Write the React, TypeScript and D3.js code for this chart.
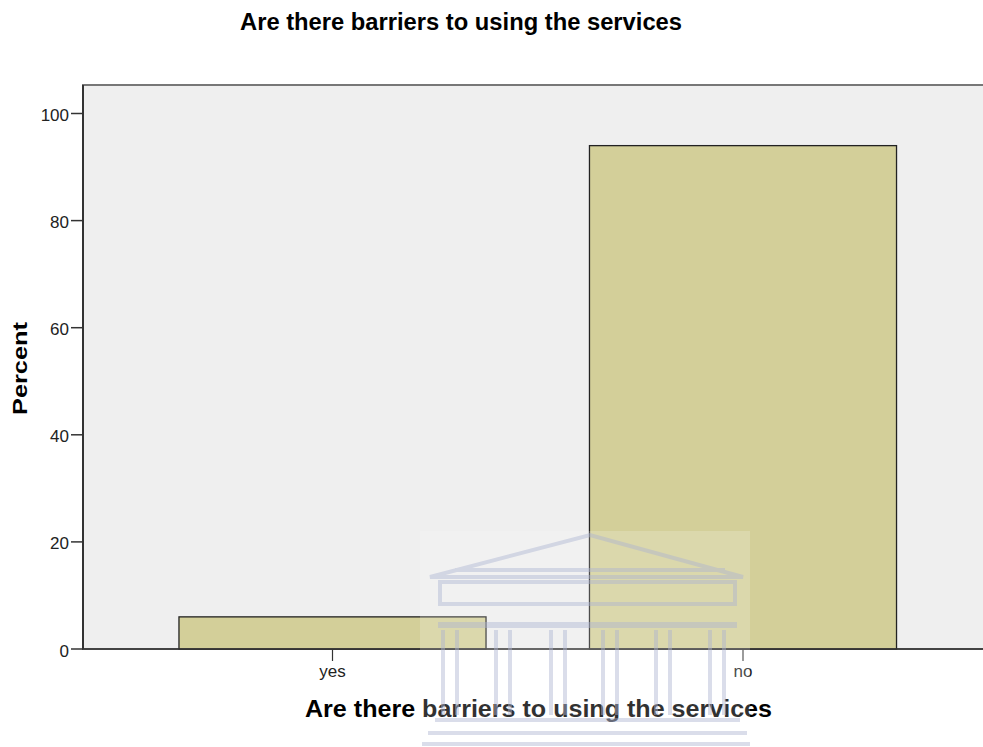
import React from "react";
import * as d3 from "d3";

const categories = ["yes", "no"];
const percents = [6.0, 94.0];
const yTicks = [0, 20, 40, 60, 80, 100];
const title = "Are there barriers to using the services";
const xTitle = "Are there barriers to using the services";
const yTitle = "Percent";

const W = 983;
const H = 747;
const plotLeft = 83;
const plotTop = 85;
const plotBottom = 649;
const plotRight = 983;

export default function App() {
  const y = d3.scaleLinear().domain([0, 100]).range([plotBottom, 113.5]);
  const x = d3
    .scaleBand<string>()
    .domain(categories)
    .range([127.25, 948.25])
    .paddingInner(0.252)
    .paddingOuter(0.126);
  const font = "'Liberation Sans', Arial, sans-serif";

  const colCenters = [450, 503, 558, 610, 663, 717];

  return (
    <svg
      width={W}
      height={H}
      style={{ position: "absolute", left: 0, top: 0, background: "#fff" }}
      fontFamily={font}
    >
      <rect x={0} y={0} width={W} height={H} fill="#fff" />
      <text
        x={240}
        y={30}
        fontSize={23}
        fontWeight="bold"
        fill="#000"
        textLength={442}
        lengthAdjust="spacingAndGlyphs"
      >
        {title}
      </text>
      <rect
        x={plotLeft}
        y={plotTop}
        width={plotRight - plotLeft + 2}
        height={plotBottom - plotTop}
        fill="#efefef"
        stroke="#777"
        strokeWidth={2}
      />
      {categories.map((c, i) => (
        <rect
          key={c}
          x={x(c)!}
          y={y(percents[i])}
          width={x.bandwidth()}
          height={plotBottom - y(percents[i])}
          fill="#d3cf99"
          stroke="#222"
          strokeWidth={1.3}
        />
      ))}
      <line x1={plotLeft} x2={plotLeft} y1={plotTop} y2={plotBottom} stroke="#333" strokeWidth={2} />
      <line x1={plotLeft - 1} x2={plotRight} y1={plotBottom} y2={plotBottom} stroke="#333" strokeWidth={1.5} />
      {yTicks.map((t) => (
        <g key={t}>
          <line x1={plotLeft - 12} x2={plotLeft} y1={y(t)} y2={y(t)} stroke="#333" strokeWidth={1.5} />
          <text x={69} y={y(t) + 7.5} textAnchor="end" fontSize={17} fill="#222">
            {t}
          </text>
        </g>
      ))}
      {categories.map((c) => {
        const cx = x(c)! + x.bandwidth() / 2;
        return (
          <g key={c}>
            <line x1={cx} x2={cx} y1={plotBottom} y2={plotBottom + 12} stroke="#333" strokeWidth={1.2} />
            <text x={cx} y={677} textAnchor="middle" fontSize={17} fill="#222">
              {c}
            </text>
          </g>
        );
      })}
      <text
        x={305}
        y={717}
        fontSize={23}
        fontWeight="bold"
        fill="#000"
        textLength={467}
        lengthAdjust="spacingAndGlyphs"
      >
        {xTitle}
      </text>
      <text
        transform={`translate(27, 415) rotate(-90)`}
        fontSize={21}
        fontWeight="bold"
        fill="#000"
        textLength={93}
        lengthAdjust="spacingAndGlyphs"
      >
        {yTitle}
      </text>
      {/* watermark */}
      <g opacity={0.55}>
        <rect x={420} y={531} width={330} height={216} fill="#ffffff" opacity={0.35} />
        <g fill="none" stroke="#bcc2da" strokeWidth={4}>
          <polygon points="430,577 590,535 743,577" />
          <line x1={455} y1={570} x2={725} y2={570} />
          <rect x={440} y={582} width={295} height={22} />
          <line x1={438} y1={625} x2={737} y2={625} strokeWidth={6} />
          {colCenters.map((cx) => (
            <g key={cx}>
              <line x1={cx - 7} x2={cx - 7} y1={630} y2={715} />
              <line x1={cx + 7} x2={cx + 7} y1={630} y2={715} />
            </g>
          ))}
          <line x1={435} y1={720} x2={740} y2={720} />
          <line x1={428} y1={733} x2={747} y2={733} />
          <line x1={422} y1={744} x2={750} y2={744} />
        </g>
      </g>
    </svg>
  );
}
